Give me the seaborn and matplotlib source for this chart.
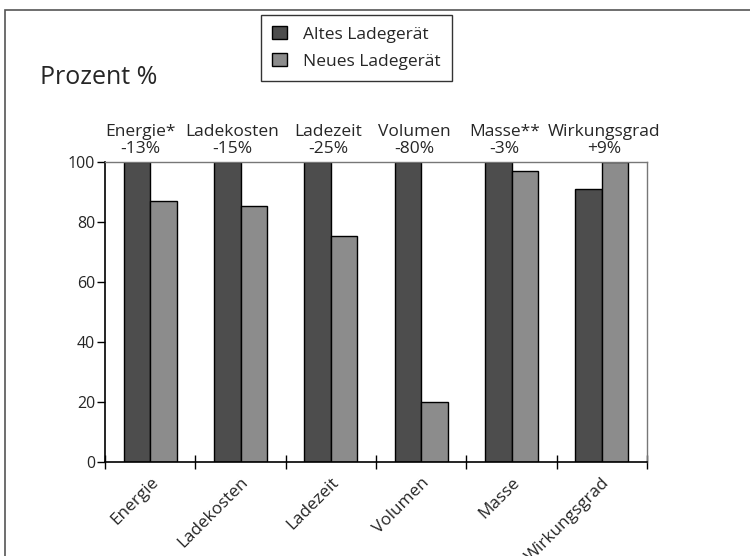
import matplotlib
matplotlib.use("Agg")
import matplotlib.pyplot as plt
from matplotlib.patches import Rectangle, Patch
import seaborn as sns
import pandas as pd

categories = ["Energie", "Ladekosten", "Ladezeit", "Volumen", "Masse", "Wirkungsgrad"]
top_labels = ["Energie*\n-13%", "Ladekosten\n-15%", "Ladezeit\n-25%", "Volumen\n-80%",
              "Masse**\n-3%", "Wirkungsgrad\n+9%"]
series_names = ["Altes Ladegerät", "Neues Ladegerät"]
old_values = [100, 100, 100, 100, 100, 91]
new_values = [87, 85.3, 75.2, 20, 97, 100]
y_ticks = [0, 20, 40, 60, 80, 100]

# small horizontal nudges (pixels) of the annotation labels, as in the reference
label_nudge_px = [-10, -8, -3, -7, -7, 2]

df = pd.DataFrame({
    "cat": categories * 2,
    "series": [series_names[0]] * len(categories) + [series_names[1]] * len(categories),
    "value": old_values + new_values,
})

sns.set_theme(style="white")
plt.rcParams["font.family"] = ["Open Sans", "DejaVu Sans"]

W, H = 750, 556
fig = plt.figure(figsize=(7.5, 5.56), dpi=100)
ax = fig.add_axes([105 / W, 1 - 462 / H, (647 - 105) / W, (462 - 162) / H])

colors = ["#4d4d4d", "#8c8c8c"]
sns.barplot(data=df, x="cat", y="value", hue="series", order=categories,
            hue_order=series_names, palette=colors, width=0.585, gap=0,
            edgecolor="black", linewidth=1.0, ax=ax, legend=False)

ax.set_xlim(-0.5, len(categories) - 0.5)
ax.set_ylim(0, 100)
ax.set_xlabel("")
ax.set_ylabel("")
ax.set_yticks(y_ticks)
ax.set_yticklabels([str(v) for v in y_ticks], fontsize=11.5)
ax.tick_params(axis="y", direction="out", length=6, width=1, color="black", pad=1, left=True)

ax.set_xticks(range(len(categories)))
ax.set_xticklabels(categories, rotation=45, ha="right", rotation_mode="anchor", fontsize=12.3)
ax.tick_params(axis="x", which="major", length=0, pad=9)
ax.set_xticks([i - 0.5 for i in range(len(categories) + 1)], minor=True)
ax.tick_params(axis="x", which="minor", direction="inout", length=10, width=1,
               color="black", bottom=True)

for s in ["left", "bottom"]:
    ax.spines[s].set_color("black")
    ax.spines[s].set_linewidth(1.2)
for s in ["top", "right"]:
    ax.spines[s].set_color("#777777")
    ax.spines[s].set_linewidth(1.0)
    ax.spines[s].set_visible(True)

for i, lab in enumerate(top_labels):
    ax.annotate(lab, xy=(i, 100), xycoords="data", xytext=(label_nudge_px[i], 5),
                textcoords="offset pixels", ha="center", va="bottom",
                fontsize=12.5, linespacing=1.05, annotation_clip=False)

fig.text(40 / W, 1 - 78 / H, "Prozent %", fontsize=18, ha="left", va="center")

handles = [Patch(facecolor=c, edgecolor="black", linewidth=1.0) for c in colors]
leg = fig.legend(handles, series_names, loc="upper left",
                 bbox_to_anchor=(261 / W, 1 - 15 / H), frameon=True, fontsize=12.5,
                 handlelength=0.85, handleheight=0.75, handletextpad=0.9,
                 borderpad=0.65, labelspacing=0.6, borderaxespad=0, fancybox=False)
leg.get_frame().set_edgecolor("black")
leg.get_frame().set_linewidth(1.0)

fig.patches.append(Rectangle((5 / W, -0.05), 1.2, 1 - 10 / H + 0.05,
                             transform=fig.transFigure, fill=False,
                             edgecolor="#555555", linewidth=1.2))

fig.savefig("out.png", dpi=100)
